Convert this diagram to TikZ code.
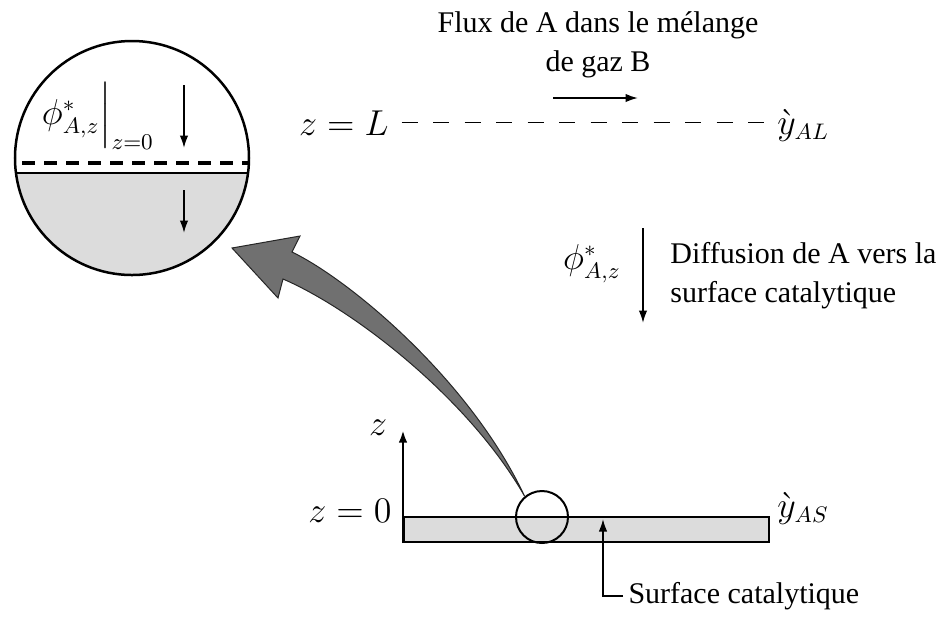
\documentclass[tikz,border=0pt]{standalone}
\usepackage{amsmath}
\usepackage{fontspec}
\setmainfont{Liberation Serif}
\usepackage{tikz}
\usetikzlibrary{positioning, arrows.meta}
\definecolor{PlateGray}{RGB}{220,220,220}
\definecolor{FlowGray}{RGB}{112,112,112}

\begin{document}
\begin{tikzpicture}[x=0.4pt,y=-0.4pt]
      \tikzset{lbl/.style={font=\fontsize{12}{15.5}\selectfont, inner sep=0pt},
        mlbl/.style={font=\fontsize{13.5}{16}\selectfont, inner sep=0pt},
        arr/.style={-{Latex[length=5pt,width=3.4pt]}, line width=0.7pt},
        fine dash/.style={line width=0.55pt, dash pattern=on 6.4pt off 6.2pt}}
      \useasboundingbox (0,0) rectangle (936,616);
      \node[lbl, align=center] (flux) at (598,45) {Flux de A dans le mélange\\de gaz B};
      \coordinate (fa) at (553,98);
      \coordinate (fb) at (638,98);
      \draw[arr] (fa) -- (fb);
      \node[mlbl, anchor=base east] (zL) at (389,135) {$z = L$};
      \node[mlbl, anchor=base west] (yAL) at (777,134) {$\grave{y}_{AL}$};
      \draw[fine dash] ([xshift=5pt]zL.east) -- ([xshift=-3.5pt]zL.east -| yAL.west);
      \node[mlbl] (phiR) at (592,264) {$\phi^*_{A,z}$};
      \coordinate (da) at (643,228);
      \coordinate (db) at (643,323);
      \draw[arr] (da) -- (db);
      \node[lbl, anchor=west, align=left] (diff) at (670,276) {Diffusion de A vers la\\surface catalytique};
      \begin{scope}
        \clip (132,158) circle [radius=46.8pt];
        \fill[PlateGray] (0,173) rectangle (260,290);
        \draw[line width=0.6pt] (0,173) -- (260,173);
        \draw[line width=1.5pt, dash pattern=on 5.2pt off 3.6pt] (0,163) -- (260,163);
      \end{scope}
      \node[circle, draw, line width=1pt, minimum size=93.6pt, inner sep=0pt] (lens) at (132,158) {};
      \node[mlbl] (phiL) at (98,116) {$\phi^*_{A,z}\Big|_{z=0}$};
      \coordinate (la) at (184,85);
      \coordinate (lb) at (184,148);
      \coordinate (lc) at (184,190);
      \coordinate (ld) at (184,233);
      \draw[arr] (la) -- (lb);
      \draw[arr] (lc) -- (ld);
      \node[draw, fill=PlateGray, line width=0.7pt, anchor=south west, minimum width=146pt, minimum height=10pt, inner sep=0pt] (plate) at (403,543) {};
      \node[circle, draw, line width=0.8pt, minimum size=20.8pt, inner sep=0pt] (spot) at (542,517) {};
      \coordinate (ax) at (403,430);
      \draw[-{Latex[length=5pt,width=3.4pt]}, line width=1.1pt] (plate.south west) -- (ax);
      \node[mlbl] (zlab) at (378,428) {$z$};
      \node[mlbl, anchor=base east] (z0) at (392,522) {$z = 0$};
      \node[mlbl, anchor=base west] (yAS) at (777,517) {$\grave{y}_{AS}$};
      \node[lbl, anchor=base west] (surf) at (628,603) {Surface catalytique};
      \coordinate (ptip) at (603,519);
      \draw[arr] ([xshift=-2pt]surf.west) -| (ptip);
      \filldraw[fill=FlowGray, draw=black!85, line width=0.4pt]
        (spot.130) .. controls (470,400) and (355,310) .. (283,279)
        -- (278,298) -- (232,248) -- (300,236) -- (292,252)
        .. controls (350,280) and (470,380) .. (spot.130) -- cycle;
\end{tikzpicture}
\end{document}
